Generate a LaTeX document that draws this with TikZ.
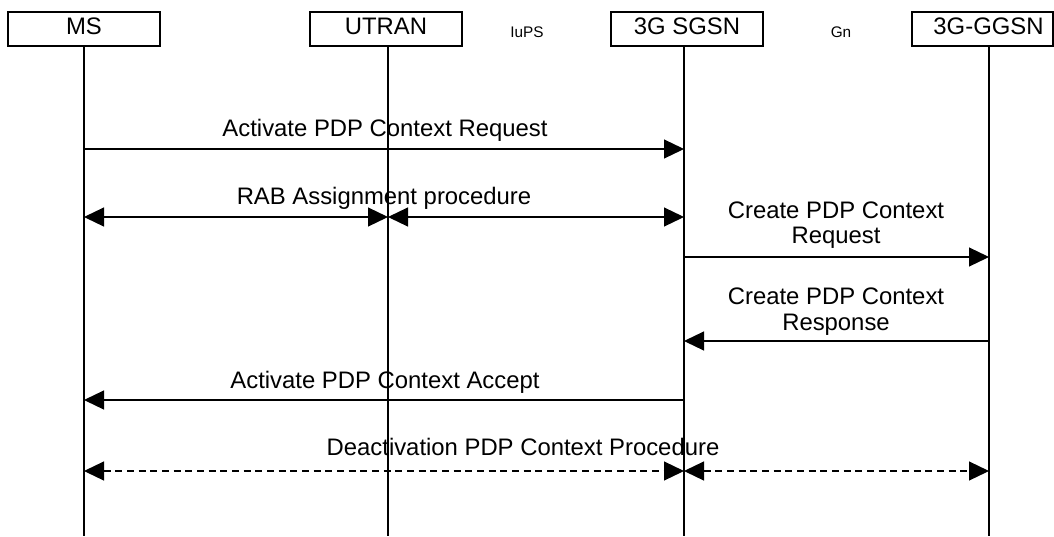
\documentclass[tikz,border=0pt]{standalone}
\usepackage{fontspec}
\setmainfont{Liberation Sans}
\usetikzlibrary{arrows.meta}
\begin{document}
\begin{tikzpicture}[x=0.75pt,y=-0.75pt,
  line width=0.9pt,
  every node/.style={inner sep=0pt,outer sep=0pt},
  Tri/.tip={Triangle[length=15pt,width=14.25pt]},
  entity/.style={draw,line width=0.9pt,minimum width=114pt,minimum height=25.5pt,
    text height=12.8pt,text depth=4.5pt,font=\fontsize{17.9pt}{21pt}\selectfont},
  lbl/.style={anchor=base,font=\fontsize{17.9pt}{21pt}\selectfont},
  iface/.style={anchor=base,font=\fontsize{11.5pt}{14pt}\selectfont},
  life/.style={line width=0.9pt},
  msg/.style={-{Tri}},
  bidi/.style={{Tri}-{Tri}},
  dbidi/.style={{Tri}-{Tri},dash pattern=on 5.25pt off 3.5pt}
]
\useasboundingbox (0,0) rectangle (1054,536);

% entities
\node[entity] (ms) at (84,29) {MS};
\node[entity] (utran) at (386,29) {UTRAN};
\node[entity] (sgsn) at (687,29) {3G SGSN};
\node[entity,minimum width=105.75pt] (ggsn) at (982.5,29) {\hspace*{9pt}3G-GGSN};

\node[iface] (iups) at (527,37) {IuPS};
\node[iface] (gn) at (841,37) {Gn};

% lifeline ends
\coordinate (msT) at (84,46);    \coordinate (msB) at (84,536);
\coordinate (utT) at (388,46);   \coordinate (utB) at (388,536);
\coordinate (sgT) at (684,46);   \coordinate (sgB) at (684,536);
\coordinate (ggT) at (989,46);   \coordinate (ggB) at (989,536);

\draw[life] (msT) -- (msB);
\draw[life] (utT) -- (utB);
\draw[life] (sgT) -- (sgB);
\draw[life] (ggT) -- (ggB);

% message levels
\coordinate (y1) at (0,149);
\coordinate (y2) at (0,217);
\coordinate (y3) at (0,257);
\coordinate (y4) at (0,341);
\coordinate (y5) at (0,400);
\coordinate (y6) at (0,471);

% Activate PDP Context Request
\draw[msg] (msT |- y1) -- (sgT |- y1);
\node[lbl] (t1) at (385,136) {Activate PDP Context Request};

% RAB Assignment procedure
\draw[bidi] (msT |- y2) -- (utT |- y2);
\draw[bidi] (utT |- y2) -- (sgT |- y2);
\node[lbl] (t2) at (384,204) {RAB Assignment procedure};

% Create PDP Context Request
\draw[msg] (sgT |- y3) -- (ggT |- y3);
\node[lbl] (t3a) at (836,218) {Create PDP Context};
\node[lbl] (t3b) at (836,243) {Request};

% Create PDP Context Response
\draw[msg] (ggT |- y4) -- (sgT |- y4);
\node[lbl] (t4a) at (836,304) {Create PDP Context};
\node[lbl] (t4b) at (836,330) {Response};

% Activate PDP Context Accept
\draw[msg] (sgT |- y5) -- (msT |- y5);
\node[lbl] (t5) at (385,388) {Activate PDP Context Accept};

% Deactivation PDP Context Procedure
\draw[dbidi] (msT |- y6) -- (sgT |- y6);
\draw[dbidi] (sgT |- y6) -- (ggT |- y6);
\node[lbl] (t6) at (523,455) {Deactivation PDP Context Procedure};
\end{tikzpicture}
\end{document}
